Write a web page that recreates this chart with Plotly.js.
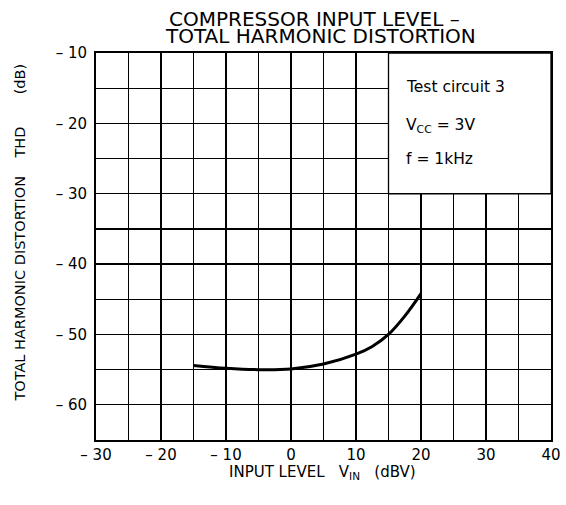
<!DOCTYPE html>
<html>
<head>
<meta charset="utf-8">
<script src="https://cdn.plot.ly/plotly-3.0.1.min.js"></script>
<style>html,body{margin:0;padding:0;background:#fff;}#chart{width:566px;height:505px;}</style>
</head>
<body>
<div id="chart"></div>
<script>
// Data
const inputLevel = [-15, -10, -5, 0, 5, 10, 12.5, 15, 17.5, 20];
const thd        = [-54.4, -54.8, -55.0, -54.9, -54.2, -52.8, -51.7, -50.0, -47.4, -44.2];

const xTickVals = [-30, -20, -10, 0, 10, 20, 30, 40];
const xTickText = ['\u2013 30', '\u2013 20', '\u2013 10', '0', '10', '20', '30', '40'];
const yTickVals = [-60, -50, -40, -30, -20, -10];
const yTickText = ['\u2013 60', '\u2013 50', '\u2013 40', '\u2013 30', '\u2013 20', '\u2013 10'];

const FONT = 'DejaVu Sans, Open Sans, sans-serif';

const trace = {
  x: inputLevel, y: thd, type: 'scatter', mode: 'lines',
  line: {color: '#000', width: 3, shape: 'spline', smoothing: 1},
  hoverinfo: 'none'
};

const layout = {
  width: 566, height: 505,
  margin: {l: 96, r: 15, t: 53, b: 65},
  paper_bgcolor: '#fff', plot_bgcolor: '#fff',
  showlegend: false,
  font: {family: FONT, color: '#000'},
  xaxis: {
    range: [-30, 40], tickvals: xTickVals, ticktext: xTickText,
    showgrid: true, gridcolor: '#000', gridwidth: 1.3,
    minor: {dtick: 5, tick0: 0, showgrid: true, gridcolor: '#000', gridwidth: 1.3, ticks: ''},
    showline: true, linecolor: '#000', linewidth: 2, mirror: true,
    zeroline: false, ticks: '', ticklabelstandoff: 0,
    tickfont: {family: FONT, size: 15, color: '#000'}
  },
  yaxis: {
    range: [-65, -10], tickvals: yTickVals, ticktext: yTickText,
    showgrid: true, gridcolor: '#000', gridwidth: 1.3,
    minor: {dtick: 5, tick0: 0, showgrid: true, gridcolor: '#000', gridwidth: 1.3, ticks: ''},
    showline: true, linecolor: '#000', linewidth: 2, mirror: true,
    zeroline: false, ticks: '', ticklabelstandoff: 4,
    tickfont: {family: FONT, size: 15, color: '#000'}
  },
  shapes: [{
    type: 'rect', xref: 'x', yref: 'y', x0: 15, x1: 40, y0: -30, y1: -10,
    fillcolor: '#fff', line: {color: '#000', width: 1.3}, layer: 'between'
  }],
  annotations: [
    {text: 'COMPRESSOR INPUT LEVEL \u2013', xref: 'paper', yref: 'paper', x: 0.48, y: 1.0, yshift: 34,
     showarrow: false, xanchor: 'center', yanchor: 'middle', font: {family: FONT, size: 20, color: '#000'}},
    {text: 'TOTAL HARMONIC DISTORTION', xref: 'paper', yref: 'paper', x: 0.493, y: 1.0, yshift: 17,
     showarrow: false, xanchor: 'center', yanchor: 'middle', font: {family: FONT, size: 20, color: '#000'}},
    {text: 'TOTAL HARMONIC DISTORTION&nbsp;&nbsp;&nbsp;&nbsp;THD&nbsp;&nbsp;&nbsp;&nbsp;&nbsp;&nbsp;&nbsp;(dB)', xref: 'paper', yref: 'paper',
     x: 0, xshift: -76, y: 0.536, textangle: -90, showarrow: false, xanchor: 'center', yanchor: 'middle',
     font: {family: FONT, size: 14.5, color: '#000'}},
    {text: 'INPUT LEVEL&nbsp;&nbsp;&nbsp;V<sub>IN</sub>&nbsp;&nbsp;&nbsp;(dBV)', xref: 'paper', yref: 'paper',
     x: 0.497, y: 0, yshift: -32, showarrow: false, xanchor: 'center', yanchor: 'middle',
     font: {family: FONT, size: 15, color: '#000'}},
    {text: 'Test circuit 3', xref: 'x', yref: 'y', x: 17.4, y: -14.9, showarrow: false, xanchor: 'left', yanchor: 'middle',
     font: {family: FONT, size: 15.5, color: '#000'}},
    {text: 'V<sub>CC</sub> = 3V', xref: 'x', yref: 'y', x: 17.4, y: -20.4, showarrow: false, xanchor: 'left', yanchor: 'middle',
     font: {family: FONT, size: 15.5, color: '#000'}},
    {text: 'f = 1kHz', xref: 'x', yref: 'y', x: 17.4, y: -25.0, showarrow: false, xanchor: 'left', yanchor: 'middle',
     font: {family: FONT, size: 15.5, color: '#000'}}
  ]
};

Plotly.newPlot('chart', [trace], layout, {displayModeBar: false, staticPlot: true});
</script>
</body>
</html>
